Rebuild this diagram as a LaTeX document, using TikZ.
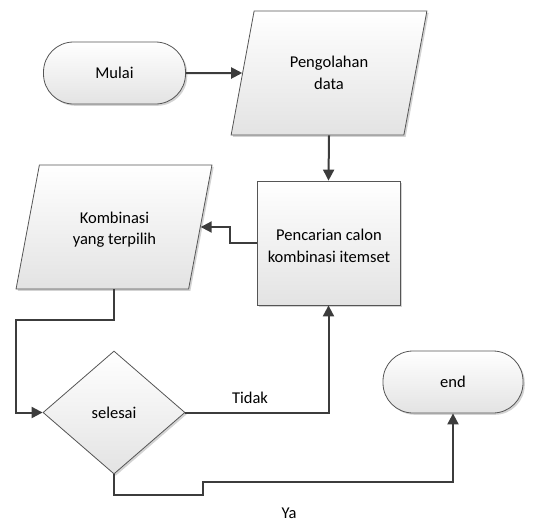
\documentclass[tikz,border=0pt]{standalone}
\usepackage{fontspec}
\setmainfont{Carlito}
\usetikzlibrary{shapes.geometric,shadows,arrows.meta}
\definecolor{conncol}{HTML}{3C3C3C}
\definecolor{bordcol}{HTML}{555555}
\tikzset{
  base/.style={draw=bordcol, line width=0.8pt, top color=white, bottom color=black!11,
    drop shadow={shadow xshift=1.8pt, shadow yshift=-1.8pt, opacity=0.35, fill=gray},
    font=\fontsize{16.5}{21.5}\selectfont, align=center, inner sep=0pt},
  termbox/.style={base, rectangle, rounded corners=30pt, minimum width=142pt, minimum height=62pt},
  procbox/.style={base, rectangle, minimum width=143pt, minimum height=124pt},
  iobox/.style={base, trapezium, trapezium left angle=70, trapezium right angle=110,
    trapezium stretches=true, minimum width=196pt, minimum height=124pt},
  decbox/.style={base, diamond, minimum width=142pt, minimum height=123pt},
  conn/.style={draw=conncol, line width=2pt, -{Triangle[length=11pt,width=11pt]}},
  lbl/.style={font=\fontsize{16.5}{21.5}\selectfont, inner sep=0pt, align=center},
}
\begin{document}
\begin{tikzpicture}[x=1pt,y=-1pt]
\useasboundingbox (0,0) rectangle (547,523);
\node[termbox] (mulai) at (114.5,73) {Mulai};
\node[iobox] (pg) at (329,73) {Pengolahan\\data};
\node[procbox] (pc) at (328.5,243) {};
\node[lbl] (pctext) at (329,246) {Pencarian calon\\kombinasi itemset};
\node[iobox] (kom) at (114,227) {\phantom{Kombinasi}\\\phantom{yang terpilih}};
\node[lbl] (komtext) at (114.5,229.5) {Kombinasi\\yang terpilih};
\node[decbox] (dia) at (114,412.5) {selesai};
\node[termbox, minimum width=140pt] (en) at (453,382) {end};
\coordinate (c1) at (16,320);
\coordinate (c2) at (203,495);
\coordinate (c3) at (203,482);
\draw[conn] (mulai.east) -- (pg.west);
\draw[conn] (pg.south) -- (pc.north);
\draw[conn] (pc.west) -- ++(-27,0) |- (kom.east);
\draw[conn] (kom.south) |- (c1) |- (dia.west);
\draw[conn] (dia.east) -| (pc.south);
\draw[conn] (dia.south) |- (c2) -- (c3) -| (en.south);
\node[lbl] (tidak) at (250,398) {Tidak};
\node[lbl] (ya) at (289,513) {Ya};
\end{tikzpicture}
\end{document}
